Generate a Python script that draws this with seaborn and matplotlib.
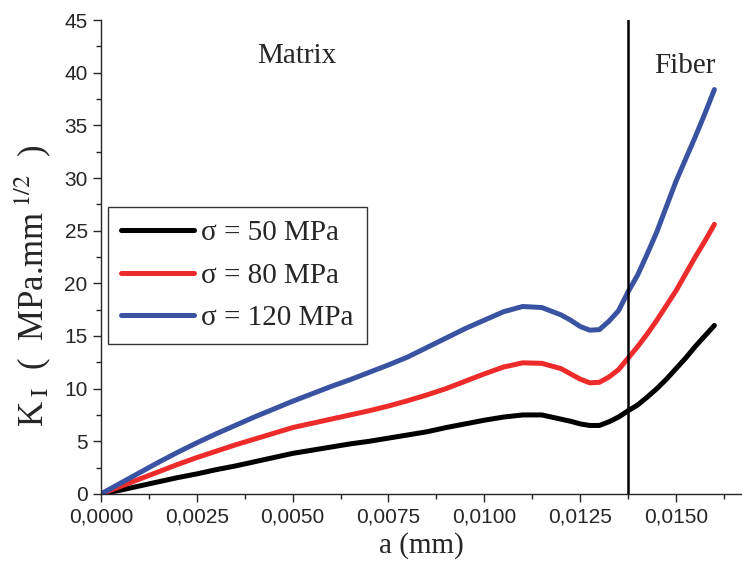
import seaborn as sns
import matplotlib.pyplot as plt
import pandas as pd
from matplotlib.ticker import MultipleLocator, FuncFormatter

a_mm = [0, 0.0005, 0.001, 0.0015, 0.002, 0.0025, 0.003, 0.0035, 0.004,
        0.0045, 0.005, 0.0055, 0.006, 0.0065, 0.007, 0.0075, 0.008, 0.0085,
        0.009, 0.0095, 0.010, 0.0105, 0.011, 0.0115, 0.012, 0.01225, 0.0125,
        0.01275, 0.013, 0.01325, 0.0135, 0.01375, 0.014, 0.01425, 0.0145,
        0.01475, 0.015, 0.01525, 0.0155, 0.01575, 0.016]
k_50 = [0, 0.35, 0.75, 1.15, 1.55, 1.9, 2.3, 2.65, 3.05, 3.45, 3.85, 4.15,
        4.45, 4.75, 5.0, 5.3, 5.6, 5.9, 6.3, 6.65, 7.0, 7.3, 7.5, 7.5, 7.1,
        6.9, 6.65, 6.5, 6.5, 6.85, 7.3, 7.9, 8.45, 9.2, 10.0, 10.9, 11.9,
        12.9, 14.0, 15.0, 16.0]
k_80 = [0, 0.7, 1.4, 2.1, 2.8, 3.45, 4.05, 4.65, 5.2, 5.75, 6.3, 6.7,
        7.1, 7.5, 7.9, 8.35, 8.85, 9.4, 10.0, 10.7, 11.4, 12.05, 12.45,
        12.4, 11.9, 11.4, 10.9, 10.55, 10.6, 11.1, 11.8, 12.9, 14.0, 15.2,
        16.5, 17.9, 19.3, 20.9, 22.5, 24.0, 25.6]
k_120 = [0, 1.0, 2.0, 3.0, 3.95, 4.85, 5.7, 6.5, 7.3, 8.05, 8.8, 9.5,
         10.2, 10.85, 11.55, 12.25, 13.0, 13.9, 14.8, 15.7, 16.5, 17.3,
         17.8, 17.7, 17.0, 16.5, 15.9, 15.55, 15.6, 16.4, 17.4, 19.2, 20.8,
         22.8, 24.9, 27.3, 29.7, 31.8, 33.9, 36.1, 38.4]
labels = ["σ = 50 MPa", "σ = 80 MPa", "σ = 120 MPa"]
colors = ["#000000", "#ee2b2b", "#3a52a2"]
interface = 0.01375

df = pd.concat([
    pd.DataFrame({"a": a_mm, "K": k, "case": lab})
    for k, lab in zip([k_50, k_80, k_120], labels)
])

sns.set_style("ticks")
plt.rcParams["mathtext.fontset"] = "stix"
serif = "Liberation Serif"

fig = plt.figure(figsize=(7.42, 5.73), dpi=100)
ax = fig.add_axes([0.136, 0.138, 0.864, 0.827])

sns.lineplot(data=df, x="a", y="K", hue="case", palette=colors,
             linewidth=3.6, ax=ax, legend=False)
ax.axvline(interface, color="black", linewidth=1.8)

ax.set_xlim(0, 0.01672)
ax.set_ylim(0, 45)
ax.xaxis.set_major_locator(MultipleLocator(0.0025))
ax.xaxis.set_minor_locator(MultipleLocator(0.00125))
ax.yaxis.set_major_locator(MultipleLocator(5))
ax.yaxis.set_minor_locator(MultipleLocator(2.5))
ax.xaxis.set_major_formatter(FuncFormatter(lambda v, p: f"{v:.4f}".replace(".", ",")))
ax.tick_params(which="both", direction="out", width=1, labelsize=15)
ax.tick_params(which="major", length=6)
ax.tick_params(which="minor", length=3.5)
for t in ax.get_xticklabels() + ax.get_yticklabels():
    t.set_fontfamily("Liberation Sans")

sns.despine(ax=ax)
ax.spines["left"].set_linewidth(1)
ax.spines["bottom"].set_linewidth(1)

ax.set_xlabel("a (mm)", fontsize=21, fontfamily=serif, labelpad=4)
ax.set_ylabel(r"K$_{\;\rm I}$  (  MPa.mm$^{\;1/2}$  )", fontsize=25,
              fontfamily=serif, labelpad=8, y=0.44)

ax.text(0.0051, 41.6, "Matrix", fontsize=21, fontfamily=serif, ha="center", va="center")
ax.text(0.01523, 40.6, "Fiber", fontsize=21, fontfamily=serif, ha="center", va="center")

handles = [plt.Line2D([], [], color=c, linewidth=3.6) for c in colors]
leg = ax.legend(handles, labels, loc="upper left", bbox_to_anchor=(0.011, 0.606),
                prop={"family": serif, "size": 21}, frameon=True, fancybox=False,
                handlelength=2.5, handletextpad=0.25, labelspacing=0.55,
                borderpad=0.45, borderaxespad=0)
leg.get_frame().set_edgecolor("black")
leg.get_frame().set_linewidth(1)

fig.savefig("out.png", dpi=100)
